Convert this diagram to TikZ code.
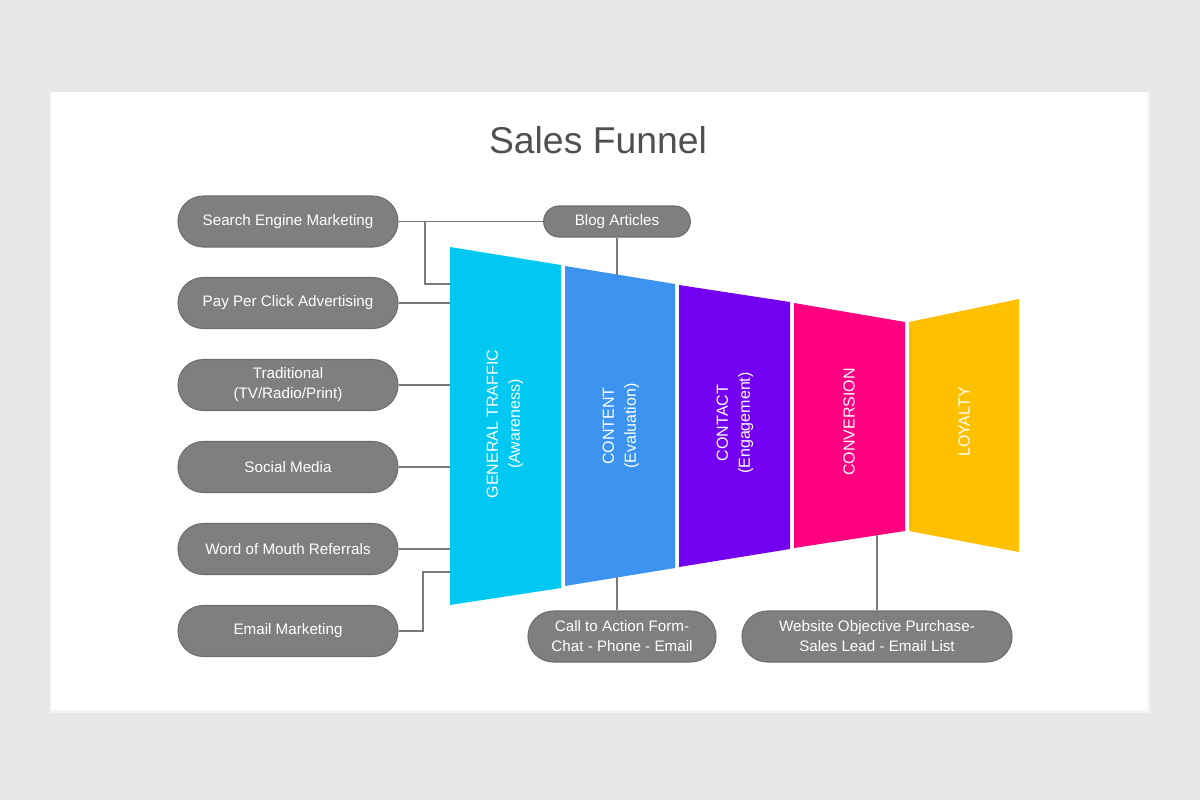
\documentclass[tikz,border=0pt]{standalone}
\usepackage{fontspec}
\setmainfont{Liberation Sans}
\usetikzlibrary{calc}
\definecolor{bgc}{HTML}{E8E6E8}
\definecolor{pillc}{HTML}{7F7F7F}
\definecolor{pilld}{HTML}{6E6E6E}
\definecolor{linec}{HTML}{7A7A7A}
\definecolor{titlec}{HTML}{505050}
\definecolor{cyanc}{HTML}{00C8F0}
\definecolor{bluec}{HTML}{3D94F0}
\definecolor{purplec}{HTML}{7300F0}
\definecolor{magc}{HTML}{FF0080}
\definecolor{yelc}{HTML}{FFC000}
\tikzset{
  pill/.style={draw=pilld, line width=0.8pt, fill=pillc, text=white, rounded corners=19pt,
    minimum height=38.25pt, align=center, font=\fontsize{11.4}{15}\selectfont, inner sep=2pt},
  leftpill/.style={pill, minimum width=165pt},
  conn/.style={draw=linec, line width=1.1pt},
  seglabel/.style={rotate=90, text=white, align=center, font=\fontsize{12}{16.5}\selectfont}
}
\begin{document}
\begin{tikzpicture}[x=0.75pt,y=-0.75pt]
\useasboundingbox (0,0) rectangle (1200,800);
\fill[bgc] (0,0) rectangle (1200,800);
% card shadow and card
\fill[black!7] (50,92) rectangle (1148.5,711.5);
\fill[black!4] (49.5,91.5) rectangle (1149.5,712.5);
\fill[white] (51,92) rectangle (1147,710);
\node[text=titlec, font=\fontsize{28}{32}\selectfont] (title) at (598,140) {Sales Funnel};

% funnel segments
\fill[cyanc] (450,247) -- (561,265) -- (561,588) -- (450,605) -- cycle;
\fill[bluec] (565,266) -- (675,284) -- (675,568) -- (565,586) -- cycle;
\fill[purplec] (679,285) -- (790,302) -- (790,549) -- (679,567) -- cycle;
\fill[magc] (794,303) -- (905,322) -- (905,531) -- (794,548) -- cycle;
\fill[yelc] (909,322) -- (1019,299) -- (1019,552) -- (909,531) -- cycle;

\node[seglabel] (s1) at (505,424) {GENERAL TRAFFIC\\(Awareness)};
\node[seglabel] (s2) at (621,426) {CONTENT\\(Evaluation)};
\node[seglabel] (s3) at (735,423) {CONTACT\\(Engagement)};
\node[seglabel] (s4) at (849,422) {CONVERSION};
\node[seglabel] (s5) at (964,422) {LOYALTY};

% left pills
\node[leftpill] (p1) at (288,221.5) {Search Engine Marketing};
\node[leftpill] (p2) at (288,303) {Pay Per Click Advertising};
\node[leftpill] (p3) at (288,385) {Traditional\\(TV/Radio/Print)};
\node[leftpill] (p4) at (288,467) {Social Media};
\node[leftpill] (p5) at (288,549) {Word of Mouth Referrals};
\node[leftpill] (p6) at (288,631) {Email Marketing};

% other pills
\node[pill, minimum width=110pt, minimum height=23.25pt, rounded corners=11.6pt] (blog) at (617,221.5) {Blog Articles};
\node[pill, minimum width=141pt] (cta) at (622,636.5) {Call to Action Form-\\Chat - Phone - Email};
\node[pill, minimum width=202.5pt] (web) at (877,636.5) {Website Objective Purchase-\\Sales Lead - Email List};

% connector end points on the funnel
\coordinate (j1) at (425,221.5);
\coordinate (f1) at (450,284);
\coordinate (f2) at (450,303);
\coordinate (f3) at (450,385);
\coordinate (f4) at (450,467);
\coordinate (f5) at (450,549);
\coordinate (j6) at (423,631);
\coordinate (f6) at (450,572);
\coordinate (fb) at (617,275);
\coordinate (fc) at (617,577);
\coordinate (fw) at (877,535);

\draw[conn] (p1.east) -- (blog.west);
\draw[conn] (j1) |- (f1);
\draw[conn] (p2.east) -- (f2);
\draw[conn] (p3.east) -- (f3);
\draw[conn] (p4.east) -- (f4);
\draw[conn] (p5.east) -- (f5);
\draw[conn] (p6.east) -- (j6) |- (f6);
\draw[conn] (blog.south) -- (fb);
\draw[conn] (fc) -- (fc |- cta.north);
\draw[conn] (fw) -- (web.north);
\end{tikzpicture}
\end{document}
